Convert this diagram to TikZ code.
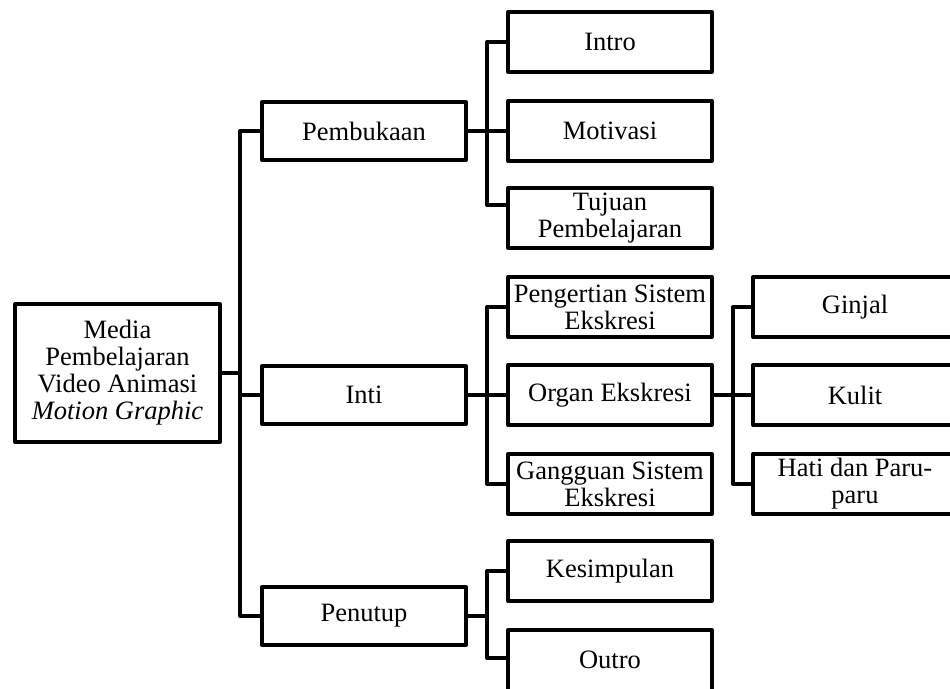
\documentclass[tikz,border=0pt]{standalone}
\usepackage{fontspec}
\setmainfont{Liberation Serif}
\begin{document}
\begin{tikzpicture}[x=1pt,y=-1pt,
  box/.style={draw=black,line width=4pt,line join=round,rectangle,inner sep=0pt,
    align=center,font=\fontsize{26.5}{27}\selectfont},
  lone/.style={box,minimum width=204pt,minimum height=58pt},
  ltwo/.style={box,minimum width=204pt,minimum height=60pt},
  lthree/.style={box,minimum width=204pt,minimum height=60pt},
  link/.style={line width=4pt,line join=round,line cap=rect}]
\useasboundingbox (0,0) rectangle (950,688);
\clip (0,0) rectangle (950,688);
\node[box,minimum width=205pt,minimum height=138pt] (root) at (117.5,373)
  {Media\\Pembelajaran\\Video Animasi\\\textit{Motion Graphic}};
\node[lone] (pemb) at (364,131) {Pembukaan};
\node[lone] (inti) at (364,395) {Inti};
\node[lone] (penutup) at (364,616) {Penutup};
\node[ltwo] (intro) at (610,42) {Intro};
\node[ltwo] (motivasi) at (610,131) {Motivasi};
\node[ltwo] (tujuan) at (610,218) {Tujuan\\Pembelajaran};
\node[ltwo] (pengertian) at (610,307) {Pengertian Sistem\\Ekskresi};
\node[ltwo] (organ) at (610,395) {Organ Ekskresi};
\node[ltwo] (gangguan) at (610,484) {Gangguan Sistem\\Ekskresi};
\node[ltwo] (kesimpulan) at (610,571) {Kesimpulan};
\node[box,minimum width=204pt,minimum height=70pt,text depth=10pt] (outro) at (610,665) {Outro};
\node[lthree] (ginjal) at (855,307) {Ginjal};
\node[lthree] (kulit) at (855,395) {Kulit};
\node[lthree] (hati) at (855,484) {Hati dan Paru-\\paru};
\coordinate (t1) at (240,0);
\coordinate (t2) at (487,0);
\coordinate (t3) at (733,0);
\coordinate (tj) at ([yshift=13pt]tujuan.west);
\coordinate (oj) at ([yshift=7pt]outro.west);
% level 1
\draw[link] (root.east) -- (root.east -| t1);
\draw[link] (pemb.west) -- (pemb.west -| t1) -- (penutup.west -| t1) -- (penutup.west);
\draw[link] (inti.west) -- (inti.west -| t1);
% Pembukaan
\draw[link] (intro.west) -- (intro.west -| t2) -- (tj -| t2) -- (tj);
\draw[link] (pemb.east) -- (motivasi.west);
% Inti
\draw[link] (pengertian.west) -- (pengertian.west -| t2) -- (gangguan.west -| t2) -- (gangguan.west);
\draw[link] (inti.east) -- (organ.west);
% Penutup
\draw[link] (kesimpulan.west) -- (kesimpulan.west -| t2) -- (oj -| t2) -- (oj);
\draw[link] (penutup.east) -- (penutup.east -| t2);
% Organ
\draw[link] (ginjal.west) -- (ginjal.west -| t3) -- (hati.west -| t3) -- (hati.west);
\draw[link] (organ.east) -- (kulit.west);
\end{tikzpicture}
\end{document}
